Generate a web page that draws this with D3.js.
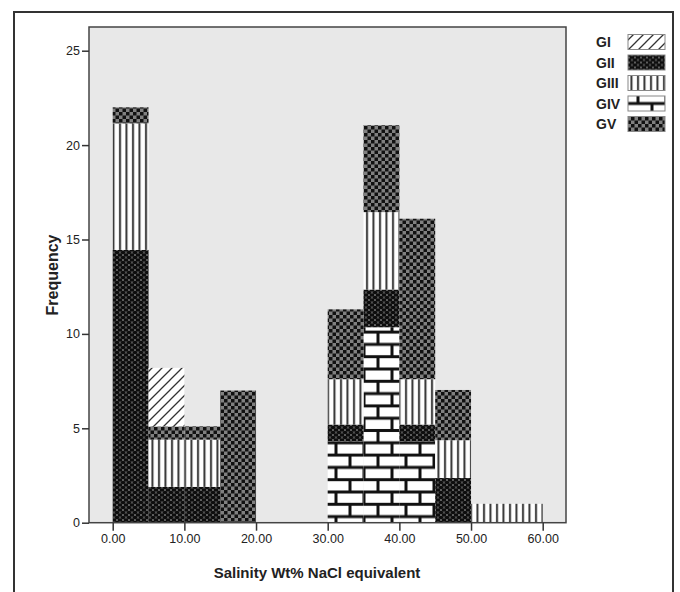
<!DOCTYPE html>
<html>
<head>
<meta charset="utf-8">
<script src="https://cdn.jsdelivr.net/npm/d3@7"></script>
<style>
  body { margin: 0; background: #fff; }
  text { font-family: "Liberation Sans", Arial, sans-serif; }
</style>
</head>
<body>
<div id="chart"></div>
<script>
// bins are 5 wide, start values
var binStarts = [0, 5, 10, 15, 20, 25, 30, 35, 40, 45, 50, 55];
var groups = ["GI", "GII", "GIII", "GIV", "GV"];
// stacking order bottom -> top
var stackOrder = ["GIV", "GII", "GIII", "GV", "GI"];

var giv  = [0,    0,   0,   0, 0, 0, 4.3, 10.35, 4.3,  0,    0, 0];
var gii  = [14.45, 1.9, 1.9, 0, 0, 0, 0.9, 2.0,   0.9,  2.37, 0, 0];
var giii = [6.7,  2.5, 2.5, 0, 0, 0, 2.4, 4.1,   2.4,  2.0,  1, 1];
var gv   = [0.85, 0.7, 0.7, 7, 0, 0, 3.7, 4.6,   8.5,  2.66, 0, 0];
var gi   = [0,    3.1, 0,   0, 0, 0, 0,   0,     0,    0,    0, 0];

var yTicks = [0, 5, 10, 15, 20, 25];
var xTicks = [0, 10, 20, 30, 40, 50, 60];

var width = 680, height = 592;
var plot = {left: 89, top: 27, right: 566, bottom: 522.7};

var svg = d3.select("#chart").append("svg")
	.attr("width", width)
	.attr("height", height);

var defs = svg.append("defs");

//GI diagonal hatch
var pGI = defs.append("pattern")
	.attr("id", "pGI")
	.attr("patternUnits", "userSpaceOnUse")
	.attr("width", 10).attr("height", 10);
pGI.append("rect").attr("width", 10).attr("height", 10).attr("fill", "#fff");
pGI.append("path").attr("d", "M-2,12 L12,-2 M-2,2 L2,-2 M8,12 L12,8")
	.attr("stroke", "#333").attr("stroke-width", 1.3);

//GII black ovals on gray lattice
var pGII = defs.append("pattern")
	.attr("id", "pGII")
	.attr("patternUnits", "userSpaceOnUse")
	.attr("width", 6).attr("height", 5);
pGII.append("rect").attr("width", 6).attr("height", 5).attr("fill", "#777");
[[3, 2.5], [0, 0], [6, 0], [0, 5], [6, 5]].forEach(function(c) {
	pGII.append("ellipse").attr("cx", c[0]).attr("cy", c[1])
		.attr("rx", 2.4).attr("ry", 1.8).attr("fill", "#0d0d0d");
});

//GIII vertical stripes
var pGIII = defs.append("pattern")
	.attr("id", "pGIII")
	.attr("patternUnits", "userSpaceOnUse")
	.attr("width", 6.5).attr("height", 10);
pGIII.append("rect").attr("width", 6.5).attr("height", 10).attr("fill", "#fff");
pGIII.append("rect").attr("x", 2).attr("width", 2).attr("height", 10).attr("fill", "#333");

//GIV bricks
var pGIV = defs.append("pattern")
	.attr("id", "pGIV")
	.attr("patternUnits", "userSpaceOnUse")
	.attr("width", 28).attr("height", 24.6);
pGIV.append("rect").attr("width", 28).attr("height", 24.6).attr("fill", "#111");
pGIV.append("rect").attr("x", 1.5).attr("y", 1.5).attr("width", 25).attr("height", 9.3).attr("fill", "#fff");
pGIV.append("rect").attr("x", -12.5).attr("y", 13.8).attr("width", 25).attr("height", 9.3).attr("fill", "#fff");
pGIV.append("rect").attr("x", 15.5).attr("y", 13.8).attr("width", 25).attr("height", 9.3).attr("fill", "#fff");

//GV checker
var pGV = defs.append("pattern")
	.attr("id", "pGV")
	.attr("patternUnits", "userSpaceOnUse")
	.attr("width", 7).attr("height", 7);
pGV.append("rect").attr("width", 7).attr("height", 7).attr("fill", "#808080");
pGV.append("rect").attr("width", 3.5).attr("height", 3.5).attr("fill", "#111");
pGV.append("rect").attr("x", 3.5).attr("y", 3.5).attr("width", 3.5).attr("height", 3.5).attr("fill", "#111");

var fills = {GI: "url(#pGI)", GII: "url(#pGII)", GIII: "url(#pGIII)", GIV: "url(#pGIV)", GV: "url(#pGV)"};
var values = {GI: gi, GII: gii, GIII: giii, GIV: giv, GV: gv};

//outer frame
svg.append("rect")
	.attr("x", 14).attr("y", 12)
	.attr("width", 659).attr("height", 600)
	.attr("fill", "none").attr("stroke", "#333").attr("stroke-width", 2);

//plot background
svg.append("rect")
	.attr("x", plot.left).attr("y", plot.top)
	.attr("width", plot.right - plot.left).attr("height", plot.bottom - plot.top)
	.attr("fill", "#e8e8e8");

var x = d3.scaleLinear().domain([0, 60]).range([112.7, 542.7]);
var y = d3.scaleLinear().domain([0, 25]).range([plot.bottom, 50.7]);

// stacked bars
var table = binStarts.map(function(b, i) {
	var row = {bin: b};
	groups.forEach(function(g) { row[g] = values[g][i]; });
	return row;
});
var stack = d3.stack().keys(stackOrder)(table);

var layers = svg.append("g").selectAll("g")
	.data(stack)
	.join("g")
	.attr("fill", function(d) { return fills[d.key]; });

layers.selectAll("rect")
	.data(function(d) { return d.filter(function(s) { return s[1] - s[0] > 0; }); })
	.join("rect")
	.attr("x", function(d) { return x(d.data.bin); })
	.attr("width", function(d) { return x(d.data.bin + 5) - x(d.data.bin); })
	.attr("y", function(d) { return y(d[1]); })
	.attr("height", function(d) { return y(d[0]) - y(d[1]); });

//plot frame
svg.append("rect")
	.attr("x", plot.left).attr("y", plot.top)
	.attr("width", plot.right - plot.left).attr("height", plot.bottom - plot.top)
	.attr("fill", "none").attr("stroke", "#444").attr("stroke-width", 1.5);

//axes
var yAxis = svg.append("g")
	.attr("transform", "translate(" + plot.left + ",0)")
	.call(d3.axisLeft(y).tickValues(yTicks).tickSize(7).tickPadding(2));
var xAxis = svg.append("g")
	.attr("transform", "translate(0," + plot.bottom + ")")
	.call(d3.axisBottom(x).tickValues(xTicks).tickFormat(d3.format(".2f")).tickSize(8).tickPadding(3));

[yAxis, xAxis].forEach(function(a) {
	a.select(".domain").remove();
	a.selectAll(".tick line").attr("stroke", "#333").attr("stroke-width", 1.5);
	a.selectAll(".tick text")
		.attr("fill", "#222")
		.attr("font-size", 12.5)
		.style("font-family", "'Liberation Sans', Arial, sans-serif");
});

//axis titles
svg.append("text")
	.attr("transform", "translate(58,275) rotate(-90)")
	.attr("text-anchor", "middle")
	.attr("font-size", 16)
	.attr("font-weight", "bold")
	.attr("fill", "#222")
	.text("Frequency");

svg.append("text")
	.attr("x", 317).attr("y", 578)
	.attr("text-anchor", "middle")
	.attr("font-size", 15)
	.attr("font-weight", "bold")
	.attr("fill", "#222")
	.text("Salinity Wt% NaCl equivalent");

//legend
var legend = svg.append("g").attr("id", "legend");
var rows = legend.selectAll("g")
	.data(groups)
	.join("g")
	.attr("transform", function(d, i) { return "translate(596," + (42 + i * 20.5) + ")"; });
rows.append("text")
	.attr("y", 5)
	.attr("font-size", 14)
	.attr("font-weight", "bold")
	.attr("fill", "#222")
	.text(function(d) { return d; });
rows.append("rect")
	.attr("x", 32).attr("y", -7.5)
	.attr("width", 37).attr("height", 15)
	.attr("fill", function(d) { return fills[d]; })
	.attr("stroke", "#888").attr("stroke-width", 1);
</script>
</body>
</html>
